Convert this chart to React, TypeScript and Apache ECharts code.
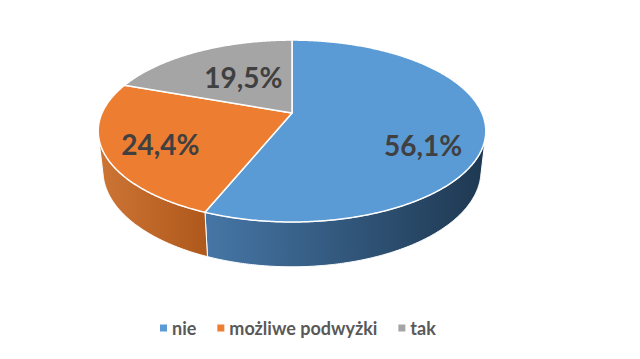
import React, { useEffect, useRef } from "react";
import * as echarts from "echarts";

const categories = ["nie", "możliwe podwyżki", "tak"];
const values = [56.1, 24.4, 19.5];
const topColors = ["#5B9BD5", "#ED7D31", "#A5A5A5"];
const sideColors = [
  ["#4676A6", "#1E3851"],
  ["#CD7535", "#AF581C"],
  ["#8A8A8A", "#6E6E6E"],
];
// label pixel nudges relative to projected mid-slice point
const labelNudge = [
  [-3, 20],
  [-3, 5],
  [20, 9],
];

const CX = 292;
const CY = 113;
const F = 851;
const D = 4.48;
const SA = 0.46;
const CA = 0.888;
const H = 0.235;
const VIS = (Math.acos(-1 / (D * CA)) * 180) / Math.PI;
const VIS_MIN = VIS;
const VIS_MAX = 360 - VIS;

function proj(thDeg: number, r: number, Y: number): number[] {
  const t = (thDeg * Math.PI) / 180;
  const X = r * Math.sin(t);
  const Z = r * Math.cos(t);
  const yc = Z * SA + Y * CA;
  const zc = D + Z * CA - Y * SA;
  return [CX + (F * X) / zc, CY - (F * yc) / zc];
}

function fmt(v: number): string {
  return v.toFixed(1).replace(".", ",") + "%";
}

export default function App() {
  const ref = useRef<HTMLDivElement>(null);
  useEffect(() => {
    if (!ref.current) return;
    const chart = echarts.init(ref.current, undefined, { renderer: "svg" });
    const total = values.reduce((a, b) => a + b, 0);
    const series = categories.map((name, i) => ({
      type: "custom",
      name,
      coordinateSystem: "none",
      itemStyle: { color: topColors[i] },
      data: [values[i]],
      renderItem: (params: any, api: any) => {
        let start = 0;
        for (let k = 0; k < i; k++) start += values[k];
        const v = api.value(0);
        const a1 = (start / total) * 360;
        const a2 = ((start + v) / total) * 360;
        const children: any[] = [];
        const w1 = Math.max(a1, VIS_MIN);
        const w2 = Math.min(a2, VIS_MAX);
        if (w2 > w1) {
          const pts: number[][] = [];
          const n = Math.ceil((w2 - w1) / 0.5);
          for (let j = 0; j <= n; j++) pts.push(proj(w1 + ((w2 - w1) * j) / n, 1, 0));
          for (let j = n; j >= 0; j--) pts.push(proj(w1 + ((w2 - w1) * j) / n, 1, -H));
          const xs = pts.map((p) => p[0]);
          const minx = Math.min(...xs);
          const maxx = Math.max(...xs);
          children.push({
            type: "polygon",
            z2: 1,
            shape: { points: pts },
            style: {
              fill: new echarts.graphic.LinearGradient(
                minx,
                0,
                maxx,
                0,
                [
                  { offset: 0, color: sideColors[i][0] },
                  { offset: 1, color: sideColors[i][1] },
                ],
                true
              ),
              stroke: "#ffffff",
              lineWidth: 1,
            },
          });
        }
        const tp: number[][] = [[CX, CY]];
        const m = Math.ceil((a2 - a1) / 0.5);
        for (let j = 0; j <= m; j++) tp.push(proj(a1 + ((a2 - a1) * j) / m, 1, 0));
        children.push({
          type: "polygon",
          z2: 10,
          shape: { points: tp },
          style: {
            fill: topColors[i],
            stroke: "#ffffff",
            lineWidth: 1.5,
            lineJoin: "round",
          },
        });
        const mid = (a1 + a2) / 2;
        const lp = proj(mid, 0.7, 0);
        children.push({
          type: "text",
          z2: 20,
          x: lp[0] + labelNudge[i][0],
          y: lp[1] + labelNudge[i][1],
          style: {
            text: fmt(v),
            fill: "#404040",
            font: "bold 28px Lato",
            align: "center",
            verticalAlign: "middle",
          },
        });
        return { type: "group", children };
      },
    }));
    chart.setOption({
      animation: false,
      backgroundColor: "#ffffff",
      legend: {
        left: 155,
        top: 312,
        icon: "rect",
        itemWidth: 7,
        itemHeight: 7,
        itemGap: 21,
        selectedMode: false,
        data: categories,
        textStyle: {
          fontFamily: "Lato",
          fontWeight: "bold",
          fontSize: 18,
          color: "#595959",
          lineHeight: 22,
        },
      },
      series,
    } as any);
    return () => chart.dispose();
  }, []);
  return (
    <div
      ref={ref}
      style={{ position: "fixed", left: 0, top: 0, width: 640, height: 359 }}
    />
  );
}
